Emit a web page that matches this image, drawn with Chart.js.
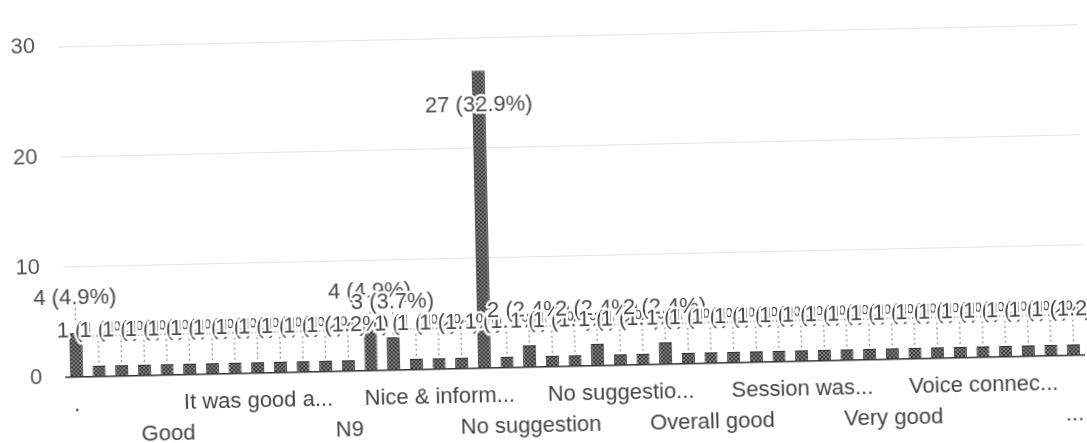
<!DOCTYPE html>
<html>
<head>
<meta charset="utf-8">
<script src="https://cdn.jsdelivr.net/npm/chart.js@4/dist/chart.umd.min.js"></script>
<style>
  html, body { margin: 0; background: #fff; }
  canvas { display: block; transform: rotate(-1.25deg); }
</style>
</head>
<body>
<canvas id="respuestasChart" width="1087" height="443"></canvas>
<script>
// categorias visibles en el eje (las demas no se leen en la imagen)
const categorias = [
    '.', '', '', '', 'Good', '', '', '', 'It was good a...', '', '', '',
    'N9', '', '', '', 'Nice & inform...', '', '', '', 'No suggestion', '', '', '',
    'No suggestio...', '', '', '', 'Overall good', '', '', '', 'Session was...', '', '', '',
    'Very good', '', '', '', 'Voice connec...', '', '', '', '...'
];
const respuestas = [
    4, 1, 1, 1, 1, 1, 1, 1, 1, 1, 1, 1, 1,
    4, 3, 1, 1, 1, 27, 1, 2, 1, 1, 2, 1, 1, 2,
    1, 1, 1, 1, 1, 1, 1, 1, 1, 1, 1, 1, 1, 1, 1, 1, 1, 1
];
const ticksY = [0, 10, 20, 30];

const total = respuestas.reduce((a, b) => a + b, 0);
const fuente = "'Liberation Sans', Arial, sans-serif";

const ctx = document.getElementById('respuestasChart').getContext('2d');

function crearTrama() {
    const c = document.createElement('canvas');
    c.width = 4; c.height = 4;
    const g = c.getContext('2d');
    g.fillStyle = '#808080';
    g.fillRect(0, 0, 4, 4);
    g.fillStyle = '#3a3a3a';
    g.fillRect(0, 0, 2, 2);
    g.fillRect(2, 2, 2, 2);
    return ctx.createPattern(c, 'repeat');
}

// etiquetas "n (x%)" con linea punteada hasta la barra
const etiquetas = {
    id: 'etiquetas',
    afterDatasetsDraw(chart) {
        const c = chart.ctx;
        const barras = chart.getDatasetMeta(0).data;
        const area = chart.chartArea;
        const pos = barras.map((b, i) => {
            let y = b.y - 35;
            const dentro = y - 12 < area.top;
            if (dentro) y = b.y + 35;
            return { x: b.x, y, top: b.y, dentro };
        });
        c.save();
        c.strokeStyle = '#777';
        c.lineWidth = 1;
        c.setLineDash([2, 3]);
        pos.forEach(p => {
            if (p.dentro) return;
            c.beginPath();
            c.moveTo(p.x, p.y + 10);
            c.lineTo(p.x, p.top - 2);
            c.stroke();
        });
        c.setLineDash([]);
        c.font = '22px ' + fuente;
        c.textAlign = 'center';
        c.textBaseline = 'middle';
        c.lineJoin = 'round';
        pos.forEach((p, i) => {
            const v = respuestas[i];
            const txt = v + ' (' + (v / total * 100).toFixed(1) + '%)';
            c.strokeStyle = '#fff';
            c.lineWidth = 5;
            c.strokeText(txt, p.x, p.y);
            c.fillStyle = '#4a4a4a';
            c.fillText(txt, p.x, p.y);
        });
        c.restore();
    }
};

new Chart(ctx, {
    type: 'bar',
    data: {
        labels: categorias,
        datasets: [{
            data: respuestas,
            backgroundColor: crearTrama(),
            borderColor: '#333',
            borderWidth: 1,
            barPercentage: 0.72,
            categoryPercentage: 0.8
        }]
    },
    options: {
        responsive: false,
        animation: false,
        layout: { padding: { top: 29, right: 5, bottom: 0, left: 0 } },
        plugins: {
            legend: { display: false },
            tooltip: { enabled: false }
        },
        scales: {
            x: {
                grid: { display: false },
                border: { display: false },
                ticks: {
                    autoSkip: false,
                    maxRotation: 0,
                    padding: 5,
                    color: '#444',
                    font: { size: 22, family: fuente, lineHeight: 1.4 },
                    callback: (val, i) => {
                        if (i % 4 !== 0) return '';
                        const lab = categorias[i];
                        return (i / 4) % 2 === 0 ? lab : ['', lab];
                    }
                },
                afterFit: s => { s.height = 76; }
            },
            y: {
                min: 0,
                max: 30,
                afterBuildTicks: s => { s.ticks = ticksY.map(v => ({ value: v })); },
                grid: {
                    drawTicks: false,
                    color: c => c.tick && c.tick.value === 0 ? '#333' : '#e4e4e4',
                    lineWidth: c => c.tick && c.tick.value === 0 ? 1.5 : 1
                },
                border: { display: false },
                ticks: {
                    padding: 23,
                    color: '#555',
                    font: { size: 22, family: fuente }
                },
                afterFit: s => { s.width = 62; }
            }
        }
    },
    plugins: [etiquetas]
});
</script>
</body>
</html>
